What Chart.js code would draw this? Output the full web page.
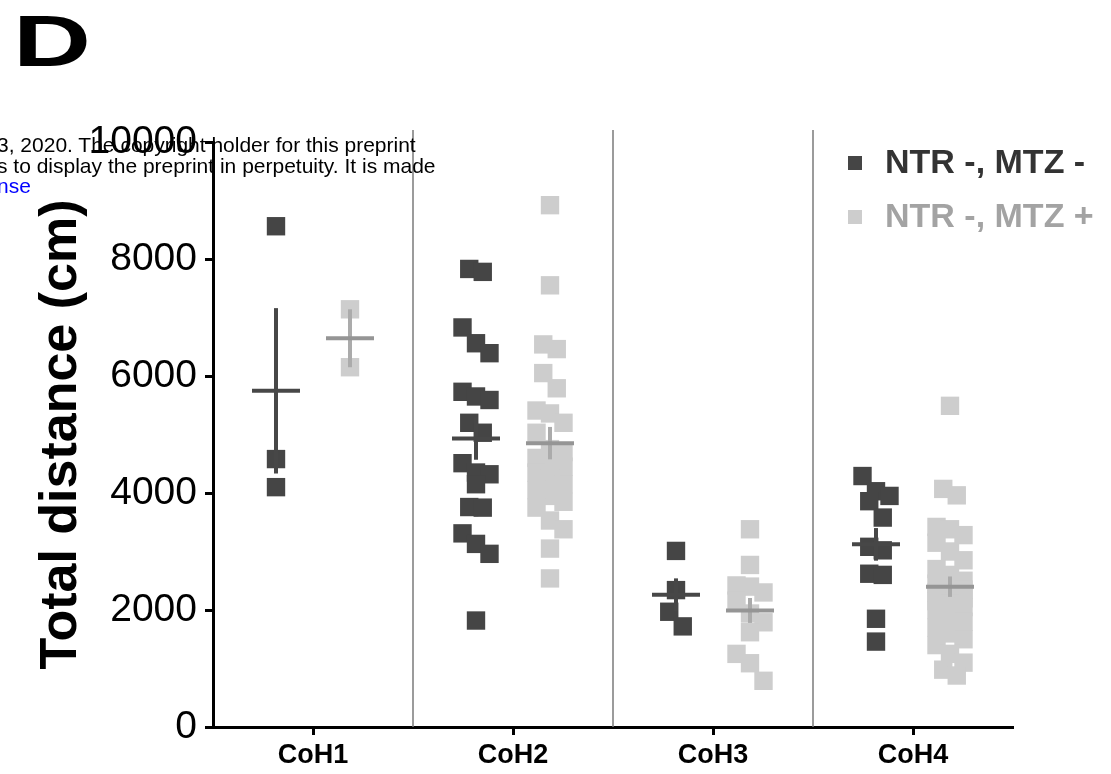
<!DOCTYPE html>
<html>
<head>
<meta charset="utf-8">
<script src="https://cdn.jsdelivr.net/npm/chart.js@4.4.1/dist/chart.umd.min.js"></script>
<style>
  html, body { margin: 0; padding: 0; background: #fff; }
  #wrap { position: relative; width: 1111px; height: 774px; overflow: hidden; }
  canvas { position: absolute; left: 0; top: 0; }
  #panel { position: absolute; left: 13px; top: 0px; font: bold 72px "Liberation Sans", Arial, sans-serif; color: #000;
           transform: scaleX(1.5); transform-origin: left top; }
  #stamp { position: absolute; left: -3px; top: 135px; font: 21px/20.5px "Liberation Sans", Arial, sans-serif; color: #000; white-space: pre; }
  #stamp .lnk { color: #0000ff; }
</style>
</head>
<body>
<div id="wrap">
  <canvas id="chart" width="1111" height="774"></canvas>
  <div id="panel">D</div>
  <div id="stamp">3, 2020. The copyright holder for this preprint
s to display the preprint in perpetuity. It is made
<span class="lnk">nse</span></div>
</div>
<script>
// categories, series and ticks
const categories = ['CoH1', 'CoH2', 'CoH3', 'CoH4'];
const seriesNames = ['NTR -, MTZ -', 'NTR -, MTZ +'];
const yTicks = [0, 2000, 4000, 6000, 8000, 10000];

// NTR -, MTZ -
const minusCoH1 = [8560, 4580, 4100];
const minusCoH2 = [7830, 7780, 6830, 6560, 6390, 5730, 5650, 5590, 5200, 5030,
                   4510, 4350, 4320, 4150, 3760, 3750, 3310, 3130, 2960, 1820];
const minusCoH3 = [3010, 2340, 1970, 1720];
const minusCoH4 = [4290, 4030, 3950, 3860, 3580, 3080, 3020, 2620, 2600, 1850, 1460];

// NTR -, MTZ +
const plusCoH1 = [7140, 6150];
const plusCoH2 = [8920, 7550, 6540, 6460, 6050, 5790, 5410, 5360, 5200, 5030,
                  4750, 4700, 4600, 4500, 4450, 4350, 4250, 4150, 4050, 3950,
                  3850, 3750, 3530, 3380, 3050, 2540];
const plusCoH3 = [3380, 2770, 2420, 2400, 2300, 2160, 1940, 1790, 1620, 1250, 1090, 790];
const plusCoH4 = [5490, 4070, 3960, 3420, 3380, 3280, 3150, 3000, 2850, 2700,
                  2600, 2500, 2450, 2400, 2350, 2300, 2250, 2200, 2150, 2100,
                  2050, 2000, 1900, 1800, 1700, 1600, 1500, 1400, 1250, 1100,
                  980, 880];

const minusGroups = [minusCoH1, minusCoH2, minusCoH3, minusCoH4];
const plusGroups = [plusCoH1, plusCoH2, plusCoH3, plusCoH4];

const FONT = "'Liberation Sans', Arial, sans-serif";
const darkColor = '#454545';
const lightColor = '#cdcdcd';
const SIDE = 0.185;      // series offset from category centre (x units)
const STEP = 0.0675;     // horizontal spread inside a row
const ROW_GAP = 310;     // values closer than this share a row

// column scatter like Prism: close neighbours are spread sideways, max 3 per row
function swarm(groups, side) {
  const pts = [];
  groups.forEach((vals, gi) => {
    const sorted = vals.slice().sort((a, b) => b - a);
    let row = [];
    const flush = () => {
      row.forEach((v, i) => pts.push({ x: gi + side + (i - (row.length - 1) / 2) * STEP, y: v }));
      row = [];
    };
    sorted.forEach(v => {
      if (row.length && (row[row.length - 1] - v > ROW_GAP || row.length === 3)) flush();
      row.push(v);
    });
    flush();
  });
  return pts;
}

function stats(vals) {
  const n = vals.length;
  const mean = vals.reduce((a, b) => a + b, 0) / n;
  const sd = Math.sqrt(vals.reduce((a, b) => a + (b - mean) ** 2, 0) / (n - 1));
  return { mean, sem: sd / Math.sqrt(n) };
}

const separators = {
  id: 'separators',
  beforeDatasetsDraw(chart) {
    const { ctx, chartArea, scales: { x } } = chart;
    ctx.save();
    ctx.strokeStyle = '#7a7a7a';
    ctx.lineWidth = 1.5;
    for (let i = 1; i < categories.length; i++) {
      const px = x.getPixelForValue(i - 0.5);
      ctx.beginPath();
      ctx.moveTo(px, chartArea.top - 12);
      ctx.lineTo(px, chartArea.bottom);
      ctx.stroke();
    }
    ctx.restore();
  }
};

const meanSem = {
  id: 'meanSem',
  afterDatasetsDraw(chart) {
    const { ctx, scales: { x, y } } = chart;
    const half = x.getPixelForValue(0.12) - x.getPixelForValue(0);
    [[minusGroups, -SIDE, '#474747', '#474747'], [plusGroups, SIDE, '#959595', '#ababab']]
      .forEach(([groups, side, meanCol, errCol]) => {
        groups.forEach((vals, gi) => {
          const { mean, sem } = stats(vals);
          const cx = x.getPixelForValue(gi + side);
          ctx.save();
          ctx.lineWidth = 4;
          ctx.strokeStyle = errCol;
          ctx.beginPath();
          ctx.moveTo(cx, y.getPixelForValue(mean + sem));
          ctx.lineTo(cx, y.getPixelForValue(mean - sem));
          ctx.stroke();
          ctx.strokeStyle = meanCol;
          ctx.beginPath();
          ctx.moveTo(cx - half, y.getPixelForValue(mean));
          ctx.lineTo(cx + half, y.getPixelForValue(mean));
          ctx.stroke();
          ctx.restore();
        });
      });
  }
};

const legendBox = {
  id: 'legendBox',
  afterDraw(chart) {
    const { ctx } = chart;
    const textCols = ['#333333', '#a3a3a3'];
    ctx.save();
    ctx.font = 'bold 34px ' + FONT;
    ctx.textBaseline = 'middle';
    chart.data.datasets.forEach((ds, i) => {
      const cy = 163 + i * 54;
      ctx.fillStyle = ds.backgroundColor;
      ctx.fillRect(848, cy - 7, 14, 14);
      ctx.fillStyle = textCols[i];
      ctx.fillText(ds.label, 885, cy + 1);
    });
    ctx.restore();
  }
};

new Chart(document.getElementById('chart'), {
  type: 'scatter',
  data: {
    datasets: [
      { label: seriesNames[0], data: swarm(minusGroups, -SIDE), backgroundColor: darkColor,
        pointBackgroundColor: darkColor, pointStyle: 'rect', pointRadius: 13, pointBorderWidth: 0 },
      { label: seriesNames[1], data: swarm(plusGroups, SIDE), backgroundColor: lightColor,
        pointBackgroundColor: lightColor, pointStyle: 'rect', pointRadius: 13, pointBorderWidth: 0 }
    ]
  },
  options: {
    responsive: false,
    animation: false,
    layout: { padding: { top: 142, right: 98, left: 0, bottom: 0 } },
    plugins: { legend: { display: false }, tooltip: { enabled: false } },
    scales: {
      x: {
        type: 'linear', min: -0.5, max: 3.5,
        afterBuildTicks: s => { s.ticks = categories.map((c, i) => ({ value: i })); },
        afterFit: s => { s.height = 47; },
        ticks: { callback: v => categories[v], font: { family: FONT, size: 27, weight: 'bold' },
                 color: '#000', padding: 4, maxRotation: 0, autoSkip: false },
        grid: { drawOnChartArea: false, tickLength: 8, tickWidth: 3, tickColor: '#000' },
        border: { display: true, color: '#000', width: 3 }
      },
      y: {
        min: 0, max: 10000,
        afterBuildTicks: s => { s.ticks = yTicks.map(v => ({ value: v })); },
        afterFit: s => { s.width = 213; },
        ticks: { callback: v => String(v), font: { family: FONT, size: 39 }, color: '#000', padding: 8 },
        grid: { drawOnChartArea: false, tickLength: 8, tickWidth: 3, tickColor: '#000' },
        border: { display: true, color: '#000', width: 3 },
        title: { display: true, text: 'Total distance (cm)', color: '#000',
                 font: { family: FONT, size: 52, weight: 'bold' }, padding: { top: 30, bottom: 0 } }
      }
    }
  },
  plugins: [separators, meanSem, legendBox]
});
</script>
</body>
</html>
